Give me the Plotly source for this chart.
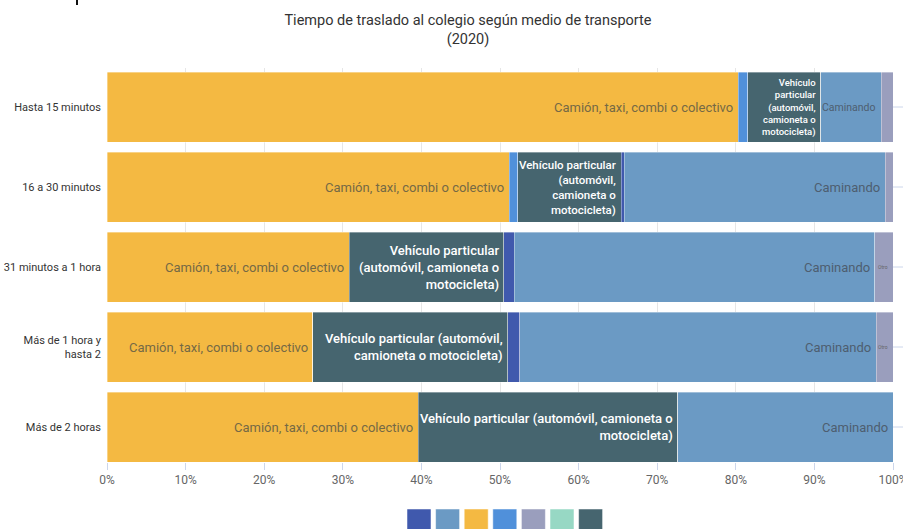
import plotly.graph_objects as go

# ---------------- data ----------------
categories = ["Hasta 15 minutos", "16 a 30 minutos", "31 minutos a 1 hora",
              "Más de 1 hora y<br>hasta 2", "Más de 2 horas"]

camion = [80.3, 51.2, 30.8, 26.2, 39.6]
metro = [1.2, 1.05, 0.0, 0.0, 0.0]
vehiculo = [9.3, 13.2, 19.7, 24.8, 33.0]
bicicleta = [0.0, 0.35, 1.3, 1.5, 0.0]
caminando = [7.7, 33.2, 45.9, 45.4, 27.4]
otro = [1.5, 1.0, 2.3, 2.1, 0.0]
escolar = [0.0, 0.0, 0.0, 0.0, 0.0]

camion_labels = ["Camión, taxi, combi o colectivo"] * 5
metro_labels = [""] * 5
vehiculo_labels = [
    "Vehículo<br>particular<br>(automóvil,<br>camioneta o<br>motocicleta)",
    "Vehículo particular<br>(automóvil,<br>camioneta o<br>motocicleta)",
    "Vehículo particular<br>(automóvil, camioneta o<br>motocicleta)",
    "Vehículo particular (automóvil,<br>camioneta o motocicleta)",
    "Vehículo particular (automóvil, camioneta o<br>motocicleta)",
]
bicicleta_labels = [""] * 5
caminando_labels = ["Caminando"] * 5
otro_labels = ["", "", "Otro", "Otro", ""]
escolar_labels = [""] * 5

title_text = "Tiempo de traslado al colegio según medio de transporte<br>(2020)"
x_ticks = [0, 10, 20, 30, 40, 50, 60, 70, 80, 90, 100]
x_ticktext = [f"{v}%" for v in x_ticks]

# ---------------- styles ----------------
FONT = "Roboto"
C_BICI = "#4059AD"
C_CAMINA = "#6B9AC4"
C_CAMION = "#F4B942"
C_METRO = "#5090DA"
C_OTRO = "#9A9EBD"
C_ESCOLAR = "#97D8C4"
C_VEH = "#46656F"


def fnt(size, color, weight="normal"):
    return dict(family=FONT, size=size, color=color, weight=weight)


series = [
    # name, values, color, labels, label color, label sizes, weight
    ("Camión, taxi, combi o colectivo", camion, C_CAMION, camion_labels, "#756945", [13] * 5, "normal"),
    ("Metro", metro, C_METRO, metro_labels, "#333", [12] * 5, "normal"),
    ("Vehículo particular (automóvil, camioneta o motocicleta)", vehiculo, C_VEH, vehiculo_labels, "#ffffff", [9.5, 11.5, 13, 13, 13], 500),
    ("Bicicleta", bicicleta, C_BICI, bicicleta_labels, "#333", [12] * 5, "normal"),
    ("Caminando", caminando, C_CAMINA, caminando_labels, "#4e5e70", [10.5, 13, 13, 13, 13], "normal"),
    ("Otro", otro, C_OTRO, otro_labels, "#666", [5] * 5, "normal"),
    ("Transporte escolar", escolar, C_ESCOLAR, escolar_labels, "#333", [12] * 5, "normal"),
]
legend_colors = [C_BICI, C_CAMINA, C_CAMION, C_METRO, C_OTRO, C_ESCOLAR, C_VEH]

W, H = 903, 529
ML, MR, MT, MB = 107, 10, 68, 67
PW, PH = W - ML - MR, H - MT - MB

fig = go.Figure()
annotations = []
cum = [0.0] * len(categories)
for name, vals, color, labels, lcol, lsizes, weight in series:
    fig.add_trace(go.Bar(
        y=categories, x=vals, orientation="h", name=name,
        marker=dict(color=color, line=dict(color="rgba(255,255,255,0.6)", width=0.6)),
        hoverinfo="skip", showlegend=False,
    ))
    for i, v in enumerate(vals):
        cum[i] += v
        if labels[i]:
            annotations.append(dict(
                x=cum[i], y=categories[i], xref="x", yref="y",
                text=labels[i], showarrow=False, xanchor="right", yanchor="middle",
                align="right", xshift=-3,
                font=fnt(lsizes[i], lcol, weight),
            ))

shapes = []
# legend swatches (no text in the reference legend)
for i, c in enumerate(legend_colors):
    x0 = 407 + i * 28.6
    shapes.append(dict(
        type="rect", xref="paper", yref="paper",
        x0=(x0 - ML) / PW, x1=(x0 + 24 - ML) / PW,
        y0=(MT + PH - 509) / PH, y1=(MT + PH - 532) / PH,
        fillcolor=c, line=dict(color="rgba(255,255,255,0.5)", width=1), layer="above",
    ))
# small tick marks on the right edge of the category axis
for cat in categories:
    shapes.append(dict(
        type="line", xref="paper", yref="y",
        x0=1, x1=1 + 10 / PW, y0=cat, y1=cat,
        line=dict(color="#ccd6eb", width=1),
    ))
# tiny cut-off heading glyph at top left
shapes.append(dict(
    type="line", xref="paper", yref="paper",
    x0=(77 - ML) / PW, x1=(77 - ML) / PW,
    y0=(MT + PH - 0) / PH, y1=(MT + PH - 5) / PH,
    line=dict(color="#111", width=2),
))

yrange = [4.4375, -0.4875]
fig.update_layout(
    width=W, height=H,
    margin=dict(l=ML, r=MR, t=MT, b=MB, pad=0, autoexpand=False),
    paper_bgcolor="white", plot_bgcolor="white",
    barmode="stack", bargap=0.125,
    font=fnt(12, "#333"),
    title=dict(text=title_text, x=468 / W, xref="container", xanchor="center",
               y=1 - 25 / H, yref="container", yanchor="top",
               font=fnt(14.5, "#333")),
    xaxis=dict(range=[0, 100], tickvals=x_ticks, ticktext=x_ticktext,
               showgrid=True, gridcolor="#e6e6e6", gridwidth=1,
               zeroline=False, showline=False, automargin=False,
               ticklabeloverflow="allow",
               ticks="outside", ticklen=7, tickcolor="#ccd6eb",
               tickfont=fnt(12, "#666")),
    yaxis=dict(type="category", categoryarray=categories, range=yrange,
               showgrid=False, zeroline=False, showline=False, ticks="",
               automargin=False, ticklabelstandoff=5,
               tickfont=fnt(11, "#333")),
    annotations=annotations,
    shapes=shapes,
)

fig.write_html(
    "out.html",
    config={"displayModeBar": False},
    post_script="document.body.style.margin='0';document.body.style.padding='0';"
                "document.documentElement.style.overflow='hidden';",
)
